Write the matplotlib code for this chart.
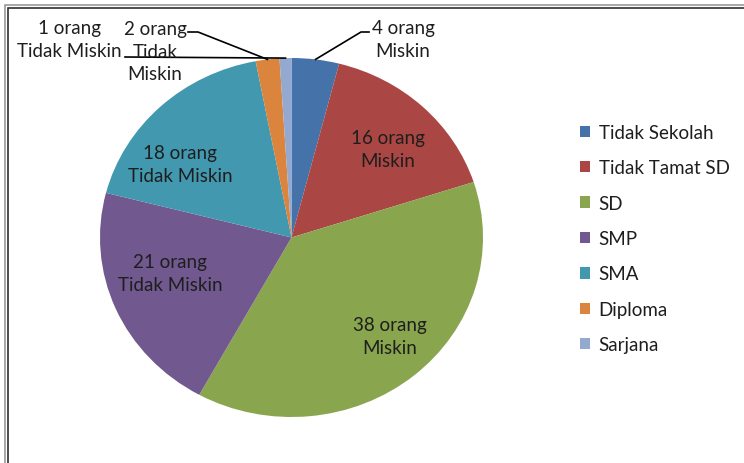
import numpy as np
import matplotlib
matplotlib.use('Agg')
import matplotlib.pyplot as plt
from matplotlib.patches import Patch, Rectangle

plt.rcParams['font.family'] = ['Lato', 'DejaVu Sans']

categories = ['Tidak Sekolah', 'Tidak Tamat SD', 'SD', 'SMP', 'SMA', 'Diploma', 'Sarjana']
values = [4, 16, 38, 21, 18, 2, 1]
status = ['Miskin', 'Miskin', 'Miskin', 'Tidak Miskin', 'Tidak Miskin', 'Tidak Miskin', 'Tidak Miskin']
colors = ['#4672AA', '#AA4643', '#89A54E', '#71588F', '#4198AF', '#DB843D', '#93A9CF']

W, H = 744, 464
fig = plt.figure(figsize=(W / 100, H / 100), dpi=100)

# pie is a bit wider than tall in the original
cx, cy, rx, ry = 291.5, 238.5, 191.5, 179.5
ax = fig.add_axes([(cx - rx) / W, (H - cy - ry) / H, 2 * rx / W, 2 * ry / H])
wedges, _ = ax.pie(values, colors=colors, startangle=90, counterclock=False,
                   wedgeprops=dict(linewidth=0))
ax.set_aspect('auto')
ax.set_xlim(-1, 1)
ax.set_ylim(-1, 1)

txt = '#1e1e1e'
fs = 13.5
ls = 1.38

def px(x, y):
    # figure pixel (from top left) -> data coords of the pie axes
    return (x - cx) / rx, (cy - y) / ry

def edge(w, r=1.0):
    a = np.deg2rad((w.theta1 + w.theta2) / 2)
    return r * np.cos(a), r * np.sin(a)

# labels inside the big slices
inside = {1: (388, 150), 2: (390, 337), 3: (170, 274), 4: (180, 165)}
for i, (x, y) in inside.items():
    ax.text(*px(x, y), f'{values[i]} orang\n{status[i]}', ha='center', va='center',
            fontsize=fs, color=txt, linespacing=ls)

# outside labels with leader lines
ax.text(*px(403, 40), f'{values[0]} orang\n{status[0]}', ha='center', va='center',
        fontsize=fs, color=txt, linespacing=ls)
ex, ey = edge(wedges[0])
ax.plot([ex, px(361, 33)[0], px(369, 33)[0]], [ey, px(361, 33)[1], px(369, 33)[1]],
        color='black', lw=1.2, clip_on=False)

ax.text(*px(155, 52), f'{values[5]} orang\nTidak\nMiskin', ha='center', va='center',
        fontsize=fs, color=txt, linespacing=ls)
ex, ey = edge(wedges[5])
ax.plot([px(188, 33)[0], px(198, 33)[0], ex], [px(188, 33)[1], px(198, 33)[1], ey],
        color='black', lw=1.2, clip_on=False)

ax.text(*px(69, 40), f'{values[6]} orang\nTidak Miskin', ha='center', va='center',
        fontsize=fs, color=txt, linespacing=ls)
ex, ey = edge(wedges[6])
ax.plot([px(125, 58)[0], ex], [px(125, 58)[1], ey], color='black', lw=1.2, clip_on=False)

handles = [Patch(facecolor=c, edgecolor='none') for c in colors]
fig.legend(handles, categories, loc='upper left', bbox_to_anchor=(580 / W, 1 - 125 / H),
           frameon=False, fontsize=fs, labelcolor=txt, handlelength=0.55, handleheight=0.55,
           handletextpad=0.45, labelspacing=0.98, borderaxespad=0, borderpad=0)

# chart frame (left and top edges are visible)
fig.add_artist(Rectangle((5 / W, -0.1), 1.2, 1 - 6 / H + 0.1, transform=fig.transFigure,
                         fill=False, edgecolor='#9a9a9a', lw=1.2))
fig.add_artist(Rectangle((8 / W, -0.1), 1.2, 1 - 9 / H + 0.1, transform=fig.transFigure,
                         fill=False, edgecolor='#303030', lw=1.2))

fig.savefig('out.png', dpi=100)
